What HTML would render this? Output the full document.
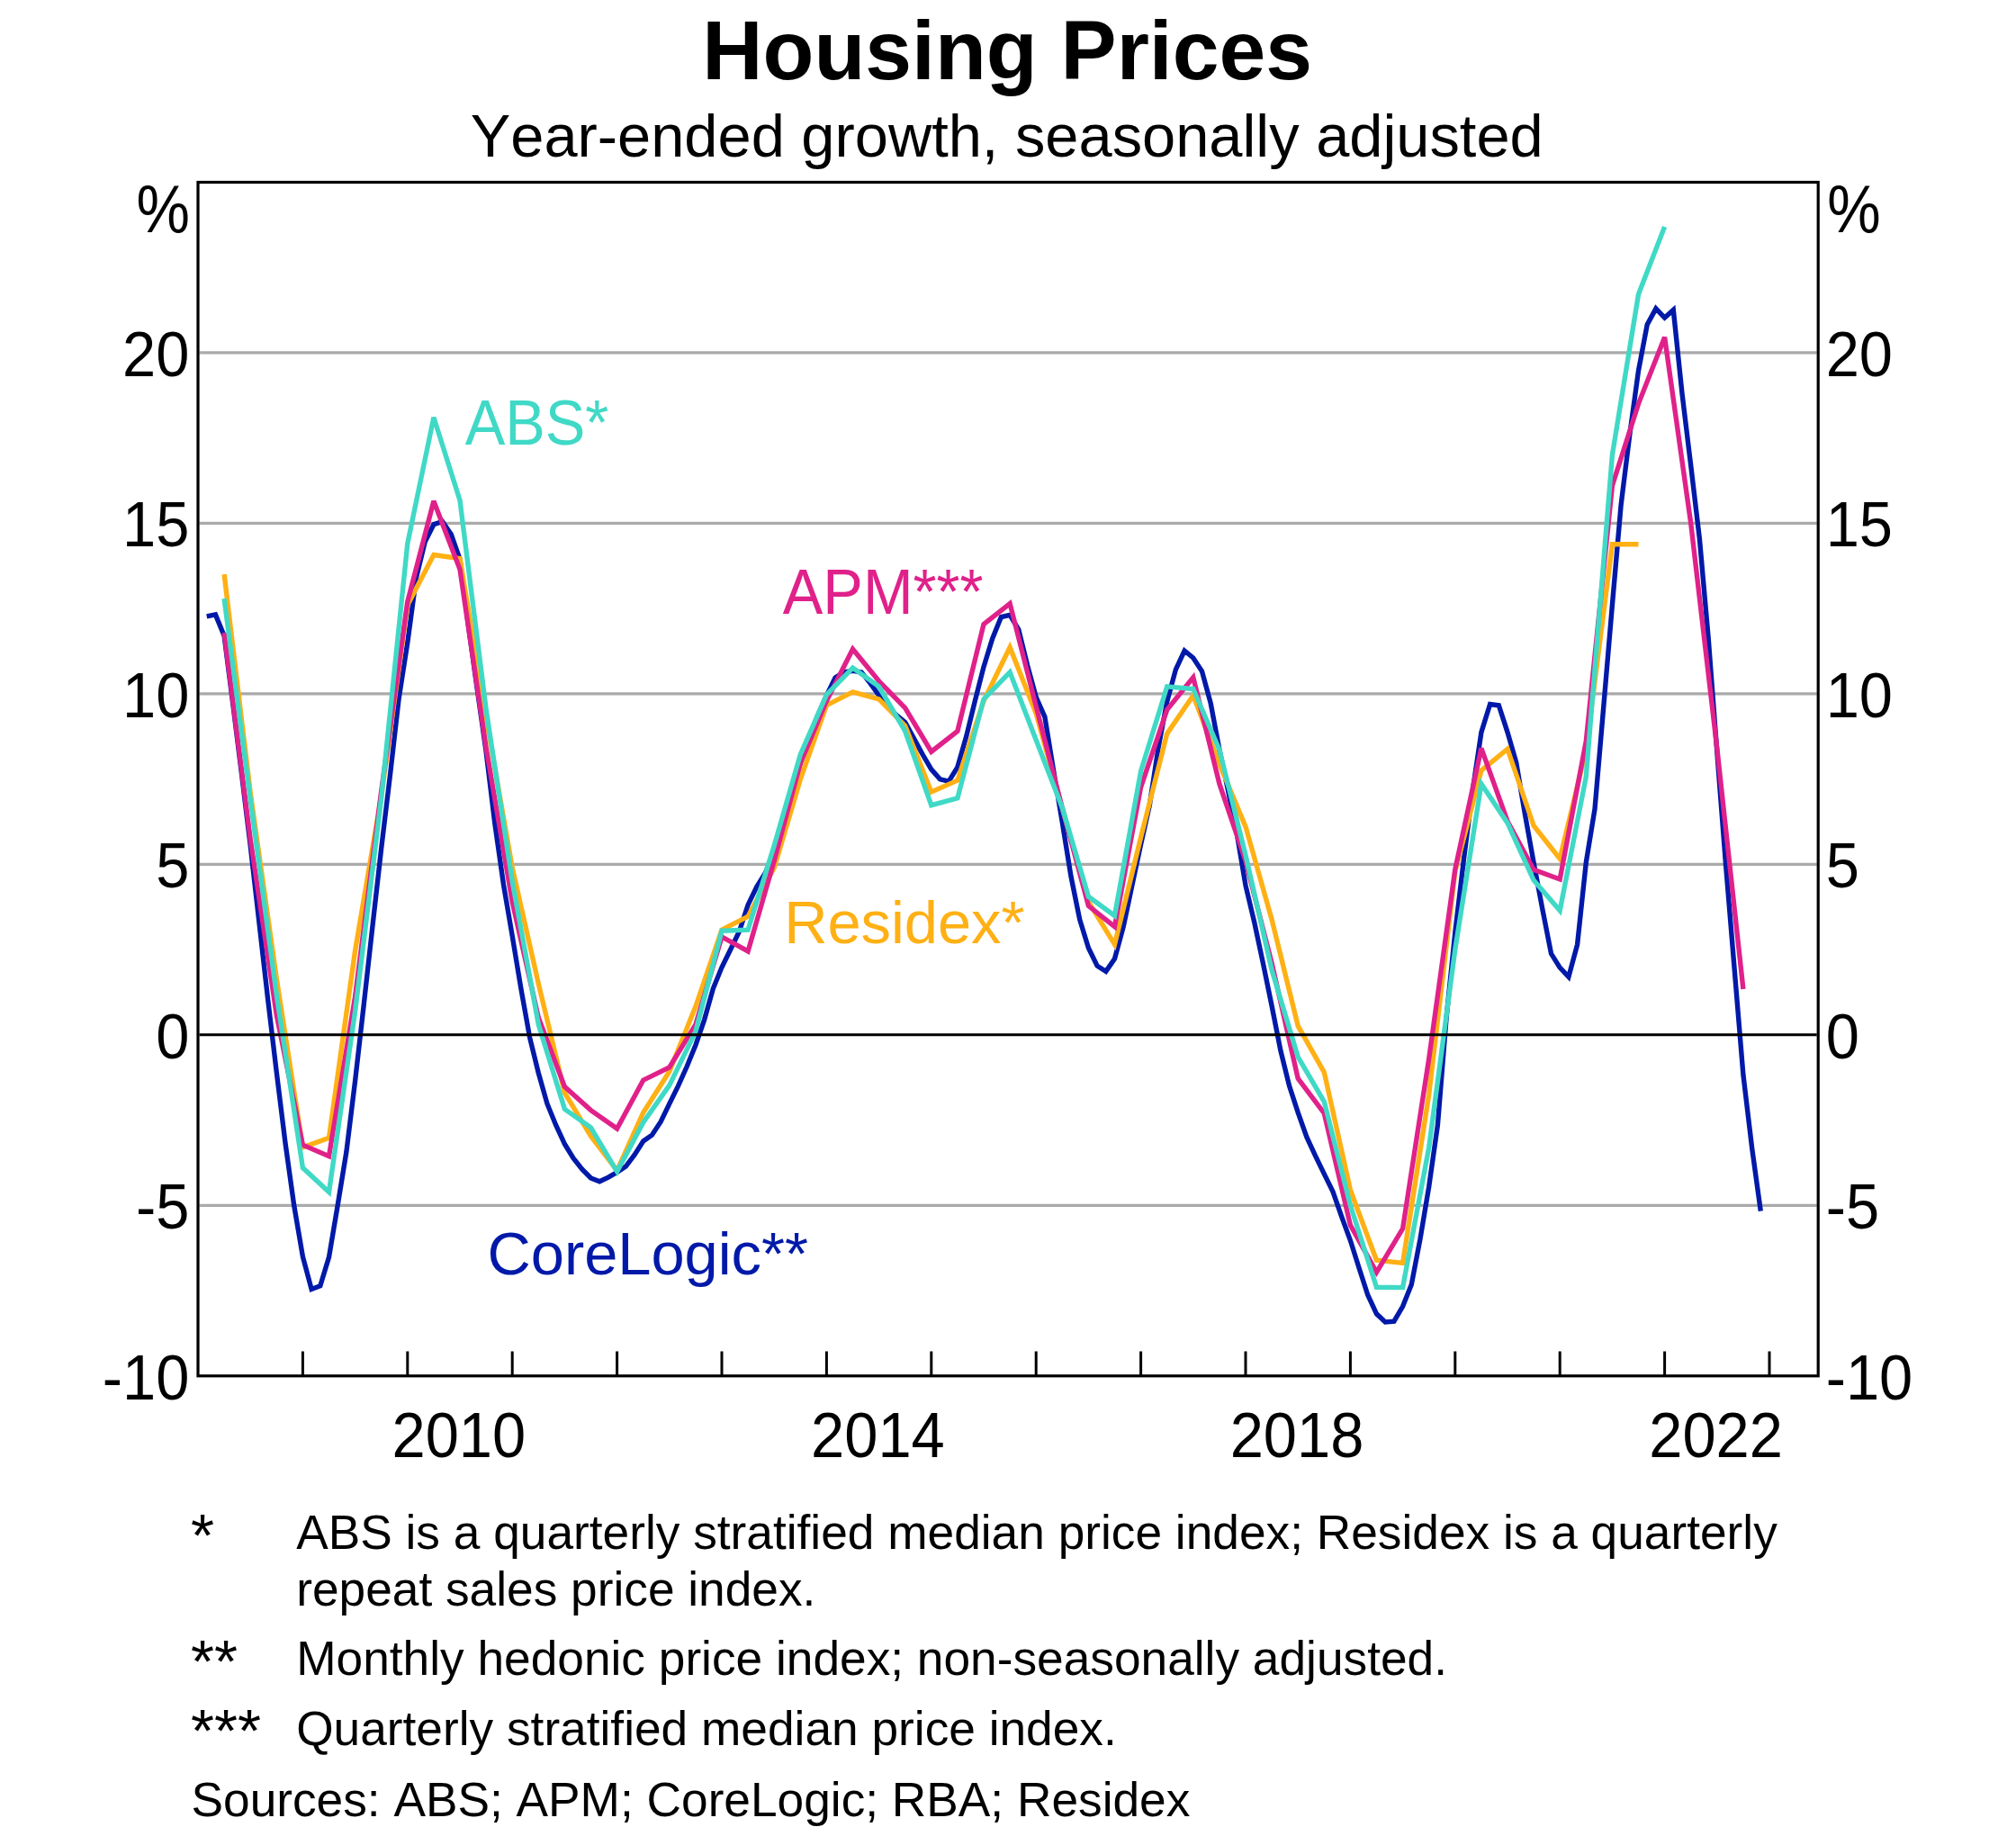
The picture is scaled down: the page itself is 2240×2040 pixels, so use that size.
<!DOCTYPE html>
<html lang="en"><head><meta charset="utf-8"><title>Housing Prices</title>
<style>
html,body{margin:0;padding:0;background:#fff;}
body{width:2240px;height:2040px;overflow:hidden;}
svg{display:block;}
text{font-kerning:none;font-family:"Liberation Sans",sans-serif;fill:#000;}
.t{font-size:93.1px;font-weight:bold;text-anchor:middle;}
.s{font-size:66.8px;text-anchor:middle;}
.a{font-size:66.8px;}
.f{font-size:53.25px;}
.ln{fill:none;stroke-linejoin:miter;stroke-miterlimit:3;stroke-linecap:butt;}
</style></head><body>
<svg width="2240" height="2040" viewBox="0 0 2240 2040">
<rect width="2240" height="2040" fill="#fff"/>

<line x1="221.5" x2="2018.7" y1="391.8" y2="391.8" stroke="#aaaaaa" stroke-width="3.2"/>
<line x1="221.5" x2="2018.7" y1="581.3" y2="581.3" stroke="#aaaaaa" stroke-width="3.2"/>
<line x1="221.5" x2="2018.7" y1="770.8" y2="770.8" stroke="#aaaaaa" stroke-width="3.2"/>
<line x1="221.5" x2="2018.7" y1="960.3" y2="960.3" stroke="#aaaaaa" stroke-width="3.2"/>
<line x1="221.5" x2="2018.7" y1="1339.3" y2="1339.3" stroke="#aaaaaa" stroke-width="3.2"/>
<polyline class="ln" stroke="#0019a8" stroke-width="5.4" points="229.7,684.8 239.4,682.9 249.1,706.4 258.8,782.2 268.5,859.9 278.2,939.5 287.9,1024.7 297.6,1110.0 307.3,1191.5 317.0,1269.9 326.7,1339.3 336.4,1396.1 346.1,1432.5 355.8,1428.7 365.5,1396.9 375.2,1339.3 384.9,1279.8 394.6,1201.0 404.3,1115.7 414.0,1028.5 423.7,942.5 433.4,861.8 443.1,776.5 452.8,714.0 462.5,641.9 472.2,602.1 481.9,582.8 491.6,579.4 501.3,593.8 511.0,621.5 520.7,696.9 530.4,767.0 540.1,835.2 549.8,914.8 559.5,983.0 569.2,1039.9 578.9,1098.6 588.6,1152.8 598.3,1192.2 608.0,1226.4 617.7,1250.2 627.4,1271.1 637.1,1287.0 646.8,1299.1 656.5,1309.0 666.2,1312.8 675.9,1308.2 685.6,1302.5 695.3,1296.1 705.0,1283.2 714.7,1268.0 724.4,1261.2 734.1,1246.4 743.8,1226.4 753.5,1206.6 763.2,1185.0 772.9,1161.2 782.6,1133.1 792.3,1098.6 802.0,1074.8 811.7,1055.0 821.4,1035.0 831.1,1005.4 840.8,985.3 850.5,969.8 860.2,945.1 869.9,911.0 879.6,878.8 889.3,848.1 899.0,820.4 908.7,794.7 918.4,772.7 928.1,753.0 937.8,746.9 947.5,745.4 957.2,746.9 966.9,759.1 976.6,772.7 986.3,784.8 996.0,794.7 1005.7,802.6 1015.4,820.4 1025.1,838.3 1034.8,854.9 1044.5,865.9 1054.2,868.2 1063.9,852.3 1073.6,818.6 1083.3,778.8 1093.0,740.9 1102.7,709.4 1112.4,685.5 1122.1,683.3 1131.8,699.5 1141.5,739.0 1151.2,774.6 1160.9,796.6 1170.6,856.1 1180.3,913.7 1190.0,973.9 1199.7,1021.7 1209.4,1053.2 1219.1,1073.2 1228.8,1079.3 1238.5,1065.3 1248.2,1029.7 1257.9,983.8 1267.6,938.3 1277.3,894.7 1287.0,831.1 1296.7,779.5 1306.4,743.9 1316.1,723.0 1325.8,731.0 1335.5,745.8 1345.2,781.4 1354.9,833.0 1364.6,878.8 1374.3,926.2 1384.0,983.8 1393.7,1024.7 1403.4,1070.2 1413.1,1117.6 1422.8,1166.9 1432.5,1206.3 1442.2,1236.2 1451.9,1263.5 1461.6,1284.3 1471.3,1304.4 1481.0,1324.1 1490.7,1351.8 1500.4,1378.3 1510.1,1409.0 1519.8,1439.0 1529.5,1459.8 1539.2,1468.9 1548.9,1468.2 1558.6,1451.5 1568.3,1427.2 1578.0,1376.4 1587.7,1318.5 1597.4,1250.2 1607.1,1130.8 1616.8,1036.1 1626.5,954.2 1636.2,878.8 1645.9,813.6 1655.6,782.5 1665.3,783.7 1675.0,813.6 1684.7,847.0 1694.4,904.6 1704.1,958.4 1713.8,1009.9 1723.5,1059.6 1733.2,1075.1 1742.9,1085.4 1752.6,1049.4 1762.3,958.4 1772.0,898.9 1781.7,786.0 1791.4,672.3 1801.1,561.2 1810.8,482.8 1820.5,411.9 1830.2,360.7 1839.9,342.9 1849.6,353.1 1859.3,344.4 1869.0,437.3 1878.7,517.2 1888.4,598.7 1898.1,707.9 1907.8,835.2 1917.5,960.3 1927.2,1077.4 1936.9,1194.1 1946.6,1275.2 1956.3,1345.7"/>
<polyline class="ln" stroke="#ffb014" stroke-width="5.4" points="249.1,638.1 278.2,880.7 307.3,1087.6 336.4,1274.9 365.5,1264.3 394.6,1056.2 423.7,884.5 452.8,672.3 481.9,616.5 511.0,620.7 540.1,797.3 569.2,964.1 598.3,1093.0 627.4,1214.2 656.5,1262.4 685.6,1300.6 714.7,1236.2 743.8,1190.4 772.9,1118.3 802.0,1033.1 831.1,1018.3 860.2,964.1 889.3,865.9 918.4,783.7 947.5,768.9 976.6,776.9 1005.7,806.4 1034.8,880.0 1063.9,867.1 1093.0,778.8 1122.1,719.3 1151.2,792.8 1180.3,897.8 1209.4,1002.0 1238.5,1049.4 1267.6,930.4 1296.7,815.1 1325.8,772.7 1354.9,848.9 1384.0,918.6 1413.1,1021.7 1442.2,1139.9 1471.3,1191.5 1500.4,1322.2 1529.5,1400.3 1558.6,1403.4 1587.7,1216.1 1616.8,968.3 1645.9,856.1 1675.0,832.2 1704.1,917.5 1733.2,954.2 1762.3,833.3 1791.4,604.8 1820.5,604.8"/>
<polyline class="ln" stroke="#e0218a" stroke-width="5.4" points="249.1,703.0 278.2,932.6 307.3,1127.8 336.4,1272.2 365.5,1284.7 394.6,1107.4 423.7,878.8 452.8,668.5 481.9,556.7 511.0,632.5 540.1,830.7 569.2,1002.0 598.3,1130.8 627.4,1207.4 656.5,1233.6 685.6,1254.0 714.7,1200.2 743.8,1185.8 772.9,1138.4 802.0,1041.0 831.1,1056.9 860.2,956.5 889.3,848.1 918.4,778.8 947.5,721.2 976.6,756.8 1005.7,786.7 1034.8,835.2 1063.9,812.5 1093.0,693.5 1122.1,670.7 1151.2,784.8 1180.3,897.8 1209.4,1006.5 1238.5,1029.7 1267.6,874.6 1296.7,788.6 1325.8,752.6 1354.9,870.9 1384.0,956.5 1413.1,1070.2 1442.2,1198.3 1471.3,1237.0 1500.4,1361.3 1529.5,1413.6 1558.6,1365.1 1587.7,1176.3 1616.8,966.0 1645.9,831.4 1675.0,912.5 1704.1,966.4 1733.2,977.0 1762.3,823.5 1791.4,539.6 1820.5,448.6 1849.6,374.7 1878.7,581.3 1907.8,831.4 1936.9,1099.0"/>
<polyline class="ln" stroke="#40d9c6" stroke-width="5.4" points="249.1,665.1 278.2,888.3 307.3,1105.5 336.4,1297.6 365.5,1324.5 394.6,1123.6 423.7,886.4 452.8,604.0 481.9,463.8 511.0,555.9 540.1,788.2 569.2,979.2 598.3,1138.4 627.4,1232.4 656.5,1252.9 685.6,1301.8 714.7,1247.2 743.8,1205.9 772.9,1146.0 802.0,1034.2 831.1,1033.1 860.2,939.5 889.3,838.3 918.4,771.9 947.5,742.0 976.6,762.8 1005.7,812.5 1034.8,894.7 1063.9,886.8 1093.0,776.9 1122.1,746.9 1151.2,822.3 1180.3,897.4 1209.4,996.3 1238.5,1017.5 1267.6,856.8 1296.7,762.8 1325.8,765.5 1354.9,833.0 1384.0,950.1 1413.1,1077.8 1442.2,1174.4 1471.3,1224.1 1500.4,1339.3 1529.5,1430.3 1558.6,1430.6 1587.7,1274.9 1616.8,1055.0 1645.9,870.9 1675.0,914.4 1704.1,978.1 1733.2,1011.8 1762.3,862.9 1791.4,505.5 1820.5,327.0 1849.6,251.9"/>
<line x1="221.5" x2="2018.7" y1="1149.8" y2="1149.8" stroke="#000" stroke-width="3"/>
<line x1="336.4" x2="336.4" y1="1501.5" y2="1528" stroke="#000" stroke-width="3"/>
<line x1="452.8" x2="452.8" y1="1501.5" y2="1528" stroke="#000" stroke-width="3"/>
<line x1="569.2" x2="569.2" y1="1501.5" y2="1528" stroke="#000" stroke-width="3"/>
<line x1="685.6" x2="685.6" y1="1501.5" y2="1528" stroke="#000" stroke-width="3"/>
<line x1="802.0" x2="802.0" y1="1501.5" y2="1528" stroke="#000" stroke-width="3"/>
<line x1="918.4" x2="918.4" y1="1501.5" y2="1528" stroke="#000" stroke-width="3"/>
<line x1="1034.8" x2="1034.8" y1="1501.5" y2="1528" stroke="#000" stroke-width="3"/>
<line x1="1151.2" x2="1151.2" y1="1501.5" y2="1528" stroke="#000" stroke-width="3"/>
<line x1="1267.6" x2="1267.6" y1="1501.5" y2="1528" stroke="#000" stroke-width="3"/>
<line x1="1384.0" x2="1384.0" y1="1501.5" y2="1528" stroke="#000" stroke-width="3"/>
<line x1="1500.4" x2="1500.4" y1="1501.5" y2="1528" stroke="#000" stroke-width="3"/>
<line x1="1616.8" x2="1616.8" y1="1501.5" y2="1528" stroke="#000" stroke-width="3"/>
<line x1="1733.2" x2="1733.2" y1="1501.5" y2="1528" stroke="#000" stroke-width="3"/>
<line x1="1849.6" x2="1849.6" y1="1501.5" y2="1528" stroke="#000" stroke-width="3"/>
<line x1="1966.0" x2="1966.0" y1="1501.5" y2="1528" stroke="#000" stroke-width="3"/>
<rect x="220" y="202.5" width="1800.2" height="1326.3" fill="none" stroke="#000" stroke-width="3.2"/>
<text class="t" x="1119.2" y="87.9">Housing Prices</text>
<text class="s" x="1118.7" y="174.0">Year-ended growth, seasonally adjusted</text>
<text class="a" transform="translate(210.3 417.5) scale(1 1.04)" text-anchor="end">20</text>
<text class="a" transform="translate(2028.7 417.5) scale(1 1.04)">20</text>
<text class="a" transform="translate(210.3 607.0) scale(1 1.04)" text-anchor="end">15</text>
<text class="a" transform="translate(2028.7 607.0) scale(1 1.04)">15</text>
<text class="a" transform="translate(210.3 796.5) scale(1 1.04)" text-anchor="end">10</text>
<text class="a" transform="translate(2028.7 796.5) scale(1 1.04)">10</text>
<text class="a" transform="translate(210.3 986.0) scale(1 1.04)" text-anchor="end">5</text>
<text class="a" transform="translate(2028.7 986.0) scale(1 1.04)">5</text>
<text class="a" transform="translate(210.3 1175.5) scale(1 1.04)" text-anchor="end">0</text>
<text class="a" transform="translate(2028.7 1175.5) scale(1 1.04)">0</text>
<text class="a" transform="translate(210.3 1365.0) scale(1 1.04)" text-anchor="end">-5</text>
<text class="a" transform="translate(2028.7 1365.0) scale(1 1.04)">-5</text>
<text class="a" transform="translate(210.3 1554.5) scale(1 1.04)" text-anchor="end">-10</text>
<text class="a" transform="translate(2028.7 1554.5) scale(1 1.04)">-10</text>
<text class="a" transform="translate(210.9 258.3) scale(1 1.13)" text-anchor="end">%</text>
<text class="a" transform="translate(2030.2 258.3) scale(1 1.13)">%</text>
<text class="a" transform="translate(509.8 1618.9) scale(1 1.04)" text-anchor="middle">2010</text>
<text class="a" transform="translate(975.4 1618.9) scale(1 1.04)" text-anchor="middle">2014</text>
<text class="a" transform="translate(1441.0 1618.9) scale(1 1.04)" text-anchor="middle">2018</text>
<text class="a" transform="translate(1906.6 1618.9) scale(1 1.04)" text-anchor="middle">2022</text>
<text class="a" transform="translate(516.7 494.4) scale(1 1.04)" style="fill:#40d9c6">ABS*</text>
<text class="a" transform="translate(869.8 681.5) scale(1 1.04)" style="fill:#e0218a">APM***</text>
<text class="a" x="871.2" y="1048" style="fill:#ffb014">Residex*</text>
<text class="a" x="541.5" y="1416" style="fill:#0019a8">CoreLogic**</text>
<text class="a" x="212" y="1728.6">*</text>
<text class="f" x="329.2" y="1720.8">ABS is a quarterly stratified median price index; Residex is a quarterly</text>
<text class="f" x="329.2" y="1783.8">repeat sales price index.</text>
<text class="a" x="212" y="1868.8">**</text>
<text class="f" x="329.2" y="1861.0">Monthly hedonic price index; non-seasonally adjusted.</text>
<text class="a" x="212" y="1946.4">***</text>
<text class="f" x="329.2" y="1938.6">Quarterly stratified median price index.</text>
<text class="f" x="212.5" y="2017.8">Sources: ABS; APM; CoreLogic; RBA; Residex</text>
</svg>
</body></html>
